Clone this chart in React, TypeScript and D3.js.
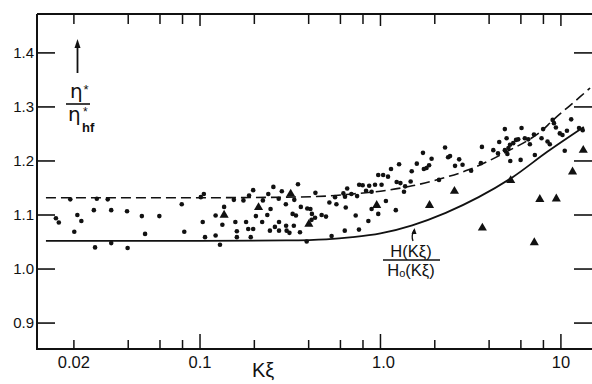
import React from "react";
import * as d3 from "d3";

// axis ticks
const yTicks = [0.9, 1.0, 1.1, 1.2, 1.3, 1.4];
const yTickLabels = ["0.9", "1.0", "1.1", "1.2", "1.3", "1.4"];
const xTicks = [0.02, 0.04, 0.06, 0.08, 0.1, 0.2, 0.4, 0.6, 0.8, 1, 2, 4, 6, 8, 10];
const xMajor = [0.1, 1, 10];
const xLabelValues = [0.02, 0.1, 1, 10];
const xLabelTexts = ["0.02", "0.1", "1.0", "10"];

// theory curves
const solidCurve: [number, number][] = [
  [0.014, 1.052], [0.1, 1.052], [0.3, 1.053], [0.5, 1.055], [0.7, 1.059], [1.0, 1.066],
  [1.5, 1.081], [2.3, 1.104], [3.5, 1.133], [5.4, 1.17], [8.4, 1.217], [13.4, 1.263],
];
const dashedCurve: [number, number][] = [
  [0.014, 1.132], [0.1, 1.132], [0.3, 1.133], [0.5, 1.135], [0.7, 1.139], [1.0, 1.144],
  [1.5, 1.154], [2.1, 1.166], [3.1, 1.184], [5.2, 1.22], [6.7, 1.24], [7.64, 1.253],
  [9.0, 1.275], [12.7, 1.318], [14.5, 1.335],
];

// measured points: circles
const dots: [number, number][] = [
  [0.0159, 1.094], [0.0165, 1.086], [0.0191, 1.129], [0.0201, 1.069], [0.0209, 1.1], [0.022, 1.089],
  [0.0258, 1.109], [0.0262, 1.04], [0.0268, 1.13], [0.0308, 1.129], [0.0322, 1.109], [0.0322, 1.048],
  [0.0394, 1.107], [0.0397, 1.039], [0.0476, 1.098], [0.0496, 1.065], [0.0595, 1.098], [0.0792, 1.12],
  [0.0818, 1.069], [0.101, 1.133], [0.105, 1.139], [0.1035, 1.087], [0.1066, 1.059], [0.122, 1.099],
  [0.122, 1.062], [0.129, 1.045], [0.136, 1.115], [0.133, 1.082], [0.154, 1.128], [0.174, 1.127],
  [0.157, 1.087], [0.16, 1.07], [0.16, 1.059], [0.18, 1.087], [0.185, 1.074], [0.191, 1.059],
  [0.197, 1.074], [0.187, 1.136], [0.197, 1.146], [0.223, 1.127], [0.204, 1.098], [0.221, 1.087],
  [0.239, 1.139], [0.236, 1.1], [0.246, 1.111], [0.255, 1.152], [0.273, 1.13], [0.284, 1.144],
  [0.299, 1.12], [0.244, 1.071], [0.26, 1.078], [0.274, 1.087], [0.274, 1.071], [0.3, 1.08],
  [0.302, 1.071], [0.313, 1.067], [0.333, 1.128], [0.349, 1.157], [0.326, 1.102], [0.34, 1.099],
  [0.331, 1.08], [0.362, 1.115], [0.358, 1.068], [0.39, 1.051], [0.393, 1.112], [0.409, 1.111],
  [0.417, 1.102], [0.434, 1.095], [0.415, 1.091], [0.472, 1.1], [0.499, 1.097], [0.436, 1.141],
  [0.521, 1.123], [0.56, 1.133], [0.57, 1.12], [0.536, 1.061], [0.623, 1.14], [0.636, 1.134],
  [0.654, 1.149], [0.69, 1.139], [0.642, 1.114], [0.634, 1.071], [0.729, 1.099], [0.76, 1.073],
  [0.762, 1.156], [0.797, 1.155], [0.742, 1.135], [0.832, 1.145], [0.866, 1.154], [0.893, 1.143],
  [0.933, 1.156], [0.972, 1.174], [1.035, 1.174], [1.101, 1.171], [1.014, 1.156], [0.893, 1.111],
  [0.972, 1.102], [1.072, 1.126], [0.857, 1.089], [1.144, 1.185], [1.216, 1.109], [1.268, 1.194],
  [1.23, 1.161], [1.37, 1.153], [1.35, 1.143], [1.29, 1.159], [1.47, 1.162], [1.49, 1.181],
  [1.59, 1.195], [1.72, 1.215], [1.74, 1.185], [1.8, 1.187], [1.86, 1.192], [1.92, 1.204],
  [2.11, 1.165], [2.28, 1.225], [2.37, 1.207], [2.43, 1.209], [2.59, 1.191], [2.73, 1.203],
  [2.85, 1.193], [3.18, 1.182], [3.6, 1.196], [3.65, 1.226], [4.22, 1.22], [4.48, 1.214],
  [4.55, 1.235], [4.89, 1.259], [5.0, 1.242], [4.89, 1.22], [5.12, 1.224], [5.22, 1.23],
  [5.05, 1.213], [5.24, 1.2], [5.44, 1.233], [5.64, 1.239], [5.8, 1.24], [6.05, 1.261],
  [5.98, 1.202], [6.31, 1.242], [6.59, 1.24], [6.73, 1.231], [7.09, 1.249], [7.17, 1.211],
  [7.97, 1.259], [7.81, 1.242], [8.43, 1.236], [8.68, 1.231], [9.0, 1.276], [9.15, 1.27],
  [9.38, 1.262], [9.86, 1.251], [10.2, 1.248], [10.8, 1.256], [10.5, 1.219], [11.4, 1.277],
  [12.6, 1.261], [13.2, 1.257],
];

// measured points: triangles
const triangles: [number, number][] = [
  [0.136, 1.1], [0.211, 1.114], [0.318, 1.139], [0.401, 1.083], [0.953, 1.118], [1.87, 1.118],
  [2.57, 1.144], [3.67, 1.076], [5.27, 1.164], [7.12, 1.049], [7.64, 1.129], [9.43, 1.13],
  [11.6, 1.18], [13.3, 1.22],
];

const font = "'Liberation Sans', Arial, sans-serif";

export default function App() {
  const left = 37, right = 591, top = 14, bottom = 349;

  const x = d3.scaleLog().domain([0.01249, 14.68]).range([left, right]);
  const y = d3.scaleLinear().domain([0.852, 1.472]).range([bottom, top]);

  const line = d3.line<[number, number]>()
    .x((d) => x(d[0]))
    .y((d) => y(d[1]))
    .curve(d3.curveMonotoneX);

  const tri = d3.symbol().type(d3.symbolTriangle).size(36)();

  return (
    <svg width={592} height={384} style={{ position: "absolute", left: 0, top: 0, background: "#fff" }}>
      {/* frame */}
      <path d={`M${left},${top}H592M${left},${top}V${bottom}H592`} fill="none" stroke="#111" strokeWidth={2} />

      {/* y ticks both sides */}
      {yTicks.map((v, i) => (
        <g key={"y" + v}>
          <line x1={left} x2={left + 18} y1={y(v)} y2={y(v)} stroke="#111" strokeWidth={1.6} />
          <line x1={right - 17} x2={592} y1={y(v)} y2={y(v)} stroke="#111" strokeWidth={1.6} />
          <text x={34} y={y(v)} dy="0.36em" textAnchor="end" fontFamily={font} fontSize={15} fill="#111">
            {yTickLabels[i]}
          </text>
        </g>
      ))}

      {/* x ticks bottom and top */}
      {xTicks.map((v) => {
        const major = xMajor.includes(v);
        return (
          <g key={"x" + v}>
            <line x1={x(v)} x2={x(v)} y1={bottom} y2={bottom - (major ? 15 : 9)} stroke="#111" strokeWidth={1.5} />
            <line x1={x(v)} x2={x(v)} y1={top} y2={top + (major ? 12 : 10)} stroke="#111" strokeWidth={1.5} />
          </g>
        );
      })}
      {xLabelValues.map((v, i) => (
        <text key={"xl" + v} x={x(v) + (v === 1 ? 3 : 0)} y={368} textAnchor="middle" fontFamily={font} fontSize={16.5} fill="#111">
          {xLabelTexts[i]}
        </text>
      ))}
      <text x={252} y={377} fontFamily={font} fontSize={20} fill="#111">Kξ</text>

      {/* y-axis label with arrow */}
      <line x1={77.5} x2={77.5} y1={73} y2={46} stroke="#111" strokeWidth={1.8} />
      <path d="M77.5,39 L74.5,48 L80.5,48 Z" fill="#111" />
      <text x={70} y={98} fontFamily="'DejaVu Sans', sans-serif" fontSize={20} fill="#111">η</text>
      <text x={83.5} y={94} fontFamily={font} fontSize={13} fill="#111">*</text>
      <line x1={66} x2={90} y1={104} y2={104} stroke="#111" strokeWidth={1.6} />
      <text x={68} y={121} fontFamily="'DejaVu Sans', sans-serif" fontSize={20} fill="#111">η</text>
      <text x={83} y={116} fontFamily={font} fontSize={12} fill="#111">*</text>
      <text x={82} y={132} fontFamily={font} fontSize={13} fontWeight="bold" fill="#111">hf</text>

      {/* curves */}
      <path d={line(dashedCurve) || ""} fill="none" stroke="#111" strokeWidth={1.6} strokeDasharray="10,5" />
      <path d={line(solidCurve) || ""} fill="none" stroke="#111" strokeWidth={1.8} />

      {/* data */}
      {dots.map((d, i) => (
        <circle key={"d" + i} cx={x(d[0])} cy={y(d[1])} r={2.3} fill="#111" />
      ))}
      {triangles.map((d, i) => (
        <path key={"t" + i} d={tri || ""} transform={`translate(${x(d[0])},${y(d[1])})`} fill="#111" />
      ))}

      {/* annotation for the solid curve */}
      <path d="M413,241 Q411,236 414,230" fill="none" stroke="#111" strokeWidth={1.3} />
      <path d="M414.5,228 L411.5,234 L416.5,234 Z" fill="#111" />
      <text x={411} y={257} textAnchor="middle" fontFamily={font} fontSize={16.5} fill="#111">H(Kξ)</text>
      <line x1={383} x2={440} y1={260} y2={260} stroke="#111" strokeWidth={1.6} />
      <text x={411} y={276} textAnchor="middle" fontFamily={font} fontSize={16.5} fill="#111">
        H<tspan fontSize={11} dy={1}>o</tspan><tspan dy={-1}>(Kξ)</tspan>
      </text>
    </svg>
  );
}
